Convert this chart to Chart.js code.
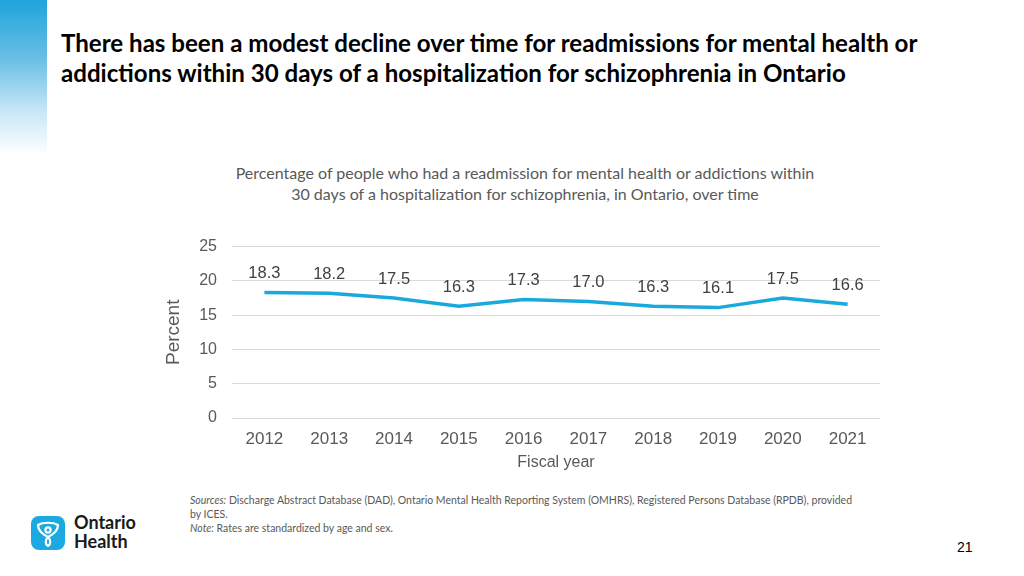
<!DOCTYPE html>
<html>
<head>
<meta charset="utf-8">
<script src="https://cdn.jsdelivr.net/npm/chart.js@4.4.1/dist/chart.umd.min.js"></script>
<style>
  body { margin: 0; width: 1024px; height: 576px; position: relative; overflow: hidden; background: #fff; font-family: Lato, sans-serif; }
  .side { position: absolute; left: 0; top: 0; width: 47px; height: 155px;
          background: linear-gradient(to bottom, #1ea4dc 0%, #6fc0e7 40%, #c9e7f6 72%, #ffffff 100%); }
  h1 { position: absolute; left: 61px; top: 28px; margin: 0; font-size: 24.1px; line-height: 30px; font-weight: 700; color: #000; white-space: nowrap; }
  .subtitle { position: absolute; left: 175px; width: 700px; top: 162px; text-align: center; font-size: 16px; line-height: 21px; color: #595959; white-space: nowrap; }
  .chart-box { position: absolute; left: 150px; top: 222px; width: 750px; height: 254px; }
  .notes { position: absolute; left: 190px; top: 493px; width: 672px; font-size: 10.5px; line-height: 14px; color: #595959; }
  .logo { position: absolute; left: 31px; top: 516px; }
  .logo-text { position: absolute; left: 74px; top: 513px; font-size: 18px; line-height: 19px; font-weight: 700; color: #1a1a1a; }
  .page { position: absolute; left: 957px; top: 539px; font-family: "Liberation Sans", sans-serif; font-size: 14px; color: #000; }
</style>
</head>
<body>
<div class="side"></div>
<h1>There has been a modest decline over time for readmissions for mental health or<br>addictions within 30 days of a hospitalization for schizophrenia in Ontario</h1>
<div class="subtitle">Percentage of people who had a readmission for mental health or addictions within<br>30 days of a hospitalization for schizophrenia, in Ontario, over time</div>
<div class="chart-box"><canvas id="readmitChart"></canvas></div>
<div class="notes"><i>Sources:</i> Discharge Abstract Database (DAD), Ontario Mental Health Reporting System (OMHRS), Registered Persons Database (RPDB), provided by ICES.<br><i>Note:</i> Rates are standardized by age and sex.</div>
<svg class="logo" width="34" height="34" viewBox="0 0 34 34">
  <rect x="0" y="0" width="34" height="34" rx="8" fill="#1aa9e0"/>
  <g fill="none" stroke="#fff" stroke-width="2.2" stroke-linejoin="round">
    <path d="M7 9 C12 6 22 6 27 9 C27 14 23 18 17 21 C11 18 7 14 7 9 Z"/>
    <path d="M17 21 C14 24 14 28 17 30 C20 28 20 24 17 21 Z"/>
    <circle cx="17" cy="14" r="2.6"/>
  </g>
</svg>
<div class="logo-text">Ontario<br>Health</div>
<div class="page">21</div>

<script>
const years = ['2012', '2013', '2014', '2015', '2016', '2017', '2018', '2019', '2020', '2021'];
const readmissionPct = [18.3, 18.2, 17.5, 16.3, 17.3, 17.0, 16.3, 16.1, 17.5, 16.6];
const yTicks = [0, 5, 10, 15, 20, 25];

const valueLabels = {
    id: 'valueLabels',
    afterDatasetsDraw(chart) {
        const ctx = chart.ctx;
        const meta = chart.getDatasetMeta(0);
        ctx.save();
        ctx.font = '16.5px "Liberation Sans", Arial, sans-serif';
        ctx.fillStyle = '#404040';
        ctx.textAlign = 'center';
        ctx.textBaseline = 'middle';
        meta.data.forEach((pt, i) => {
            ctx.fillText(readmissionPct[i].toFixed(1), pt.x, pt.y - 19);
        });
        ctx.restore();
    }
};

new Chart(document.getElementById('readmitChart'), {
    type: 'line',
    data: {
        labels: years,
        datasets: [{
            label: 'Percent',
            data: readmissionPct,
            borderColor: '#1aa9dc',
            borderWidth: 3.5,
            pointRadius: 0,
            tension: 0,
            fill: false
        }]
    },
    options: {
        responsive: true,
        maintainAspectRatio: false,
        animation: false,
        layout: { padding: { top: 6, right: 20, left: 0, bottom: 0 } },
        plugins: {
            legend: { display: false },
            tooltip: { enabled: false }
        },
        scales: {
            x: {
                offset: true,
                afterFit(scale) {
                    scale.height = 58;
                },
                grid: { display: false, drawTicks: false },
                border: { display: false },
                ticks: {
                    padding: 11,
                    color: '#595959',
                    font: { family: '"Liberation Sans", Arial, sans-serif', size: 17 }
                },
                title: {
                    display: true,
                    text: 'Fiscal year',
                    color: '#595959',
                    font: { family: '"Liberation Sans", Arial, sans-serif', size: 16 }
                }
            },
            y: {
                min: yTicks[0],
                max: yTicks[yTicks.length - 1],
                afterBuildTicks(scale) {
                    scale.ticks = yTicks.map(v => ({ value: v }));
                },
                afterFit(scale) {
                    scale.width = 82;
                },
                grid: { color: '#d9d9d9', lineWidth: 1, drawTicks: false },
                border: { display: false },
                ticks: {
                    padding: 15,
                    color: '#595959',
                    font: { family: '"Liberation Sans", Arial, sans-serif', size: 16 }
                },
                title: {
                    display: true,
                    text: 'Percent',
                    color: '#595959',
                    padding: { top: 12, bottom: 4 },
                    font: { family: '"Liberation Sans", Arial, sans-serif', size: 19 }
                }
            }
        }
    },
    plugins: [valueLabels]
});
</script>
</body>
</html>
